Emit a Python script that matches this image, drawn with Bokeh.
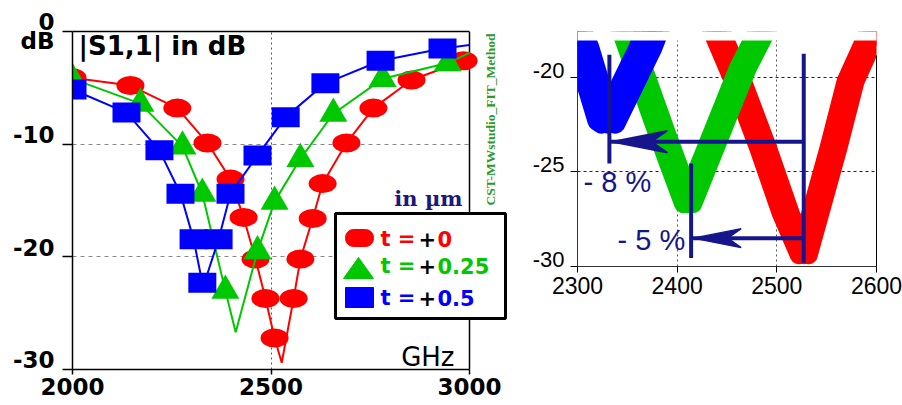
from bokeh.plotting import figure
from bokeh.layouts import row
from bokeh.models import (Range1d, FixedTicker, LinearAxis, Label, BoxAnnotation,
                          PolyAnnotation, ColumnDataSource, Span)
from bokeh.transform import dodge
from bokeh.embed import file_html
from bokeh.resources import INLINE

# ------------------------------------------------------------------ data
# |S1,1| in dB versus frequency (MHz), CST simulation, thickness offset t in um
red_curve_f = [2000, 2146, 2264, 2340, 2398, 2431, 2461, 2486, 2509, 2527, 2557, 2574, 2605, 2630, 2690, 2758, 2854, 2985, 3000]
red_curve_db = [-4.1, -4.8, -6.8, -9.9, -13.1, -16.5, -20.2, -23.7, -27.2, -29.4, -23.7, -20.2, -16.6, -13.5, -9.9, -6.8, -4.3, -2.6, -2.5]
red_mark_f = [2000, 2146, 2264, 2340, 2398, 2431, 2461, 2486, 2509, 2557, 2574, 2605, 2630, 2690, 2758, 2854, 2985]
red_mark_db = [-4.1, -4.8, -6.8, -9.9, -13.1, -16.5, -20.2, -23.7, -27.2, -23.7, -20.2, -16.6, -13.5, -9.9, -6.8, -4.3, -2.6]

green_curve_f = [2000, 2171, 2277, 2327, 2385, 2411, 2466, 2509, 2574, 2657, 2781, 2945, 3000]
green_curve_db = [-4.2, -6.4, -10.2, -14.4, -23.0, -26.7, -19.5, -15.1, -11.3, -7.3, -4.2, -2.8, -1.9]
green_mark_f = [2000, 2171, 2277, 2327, 2385, 2466, 2509, 2574, 2657, 2781, 2945]
green_mark_db = [-4.2, -6.4, -10.2, -14.4, -23.0, -19.5, -15.1, -11.3, -7.3, -4.2, -2.8]

blue_curve_f = [2000, 2136, 2219, 2272, 2305, 2327, 2331, 2368, 2398, 2466, 2537, 2637, 2776, 2932, 3000]
blue_curve_db = [-5.15, -7.2, -10.55, -14.4, -18.45, -22.3, -22.45, -18.45, -14.4, -11.0, -7.6, -4.6, -2.6, -1.5, -1.2]
blue_mark_f = [2000, 2136, 2219, 2272, 2305, 2327, 2368, 2398, 2466, 2537, 2637, 2776, 2932]
blue_mark_db = [-5.15, -7.2, -10.55, -14.4, -18.45, -22.3, -18.45, -14.4, -11.0, -7.6, -4.6, -2.6, -1.5]

legend_values = ["0", "0.25", "0.5"]

left_x_ticks = [2000, 2500, 3000]
left_y_ticks = [-30, -20, -10, 0]
left_y_labels = ["-30", "-20", "-10", "0\ndB"]
right_x_ticks = [2300, 2400, 2500, 2600]
right_y_ticks = [-30, -25, -20]

# resonance markers of the zoom (red, green, blue) and the shift arrows
res_f = [2527, 2414, 2332]
res_top = [-18.75, -24.55, -18.8]
res_bot = [-29.8, -29.55, -24.55]
arrow_from_f = [2527, 2527]
arrow_to_f = [2332, 2414]
arrow_db = [-23.4, -28.5]
shift_labels = ["- 8 %", "- 5 %"]

RED, GREEN, BLUE, NAVY = "#ff0000", "#00c800", "#0000ff", "#16168c"
LEG_COLORS = [RED, GREEN, BLUE]
PAGE_H = 405

# ------------------------------------------------------------------ left plot
L_LEFT, L_TOP = 72, 31
L_FW, L_FH = 443, 338          # frame reaches past 3000 MHz to hold legend / side text
L_PX_MHZ = 397 / 1000.0
L_X1 = 2000 + L_FW / L_PX_MHZ
def lx(px):  # page pixel -> frequency (left plot)
    return 2000 + (px - L_LEFT) / L_PX_MHZ
def ly(py):  # page pixel -> dB (left plot)
    return -(py - L_TOP) * 30.0 / L_FH

p1 = figure(frame_width=L_FW, frame_height=L_FH, min_border_left=L_LEFT, min_border_right=0,
            min_border_top=L_TOP, min_border_bottom=PAGE_H - L_TOP - L_FH,
            x_range=Range1d(2000, L_X1), y_range=Range1d(-30, 0),
            output_backend="svg", toolbar_location=None, title=None)
p1.outline_line_color = None
p1.background_fill_color = "white"
p1.border_fill_color = "white"

xa = p1.xaxis[0]
xa.ticker = FixedTicker(ticks=left_x_ticks)
xa.bounds = (2000, 3000)
xa.major_tick_out = 5
xa.major_tick_in = 0
xa.minor_tick_line_color = None
xa.major_label_standoff = 3
xa.axis_line_width = 1.5
xa.major_tick_line_width = 1.5
xa.major_label_text_font = "DejaVu Sans"
xa.major_label_text_font_style = "bold"
xa.major_label_text_font_size = "23px"
xa.major_label_text_color = "black"

ya = p1.yaxis[0]
ya.ticker = FixedTicker(ticks=left_y_ticks)
ya.major_tick_out = 10
ya.major_tick_in = 0
ya.minor_tick_line_color = None
ya.major_label_standoff = 8
ya.axis_line_width = 1.5
ya.major_tick_line_width = 1.5
ya.major_label_text_font = "DejaVu Sans"
ya.major_label_text_font_style = "bold"
ya.major_label_text_font_size = "23px"
ya.major_label_text_color = "black"
# trailing line lifts each label a little above its tick, as in the original
ya.major_label_overrides = {t: (lab if "\n" in lab else lab + "\n")
                            for t, lab in zip(left_y_ticks, left_y_labels)}
ya.major_label_text_line_height = 0.7

top_axis = LinearAxis(ticker=FixedTicker(ticks=[]), bounds=(2000, 3000), axis_line_width=1.5,
                      axis_line_color="black", major_tick_out=0, major_tick_in=0,
                      minor_tick_out=0, minor_tick_in=0)
p1.add_layout(top_axis, "above")

p1.xgrid.grid_line_color = "#555555"
p1.xgrid.grid_line_dash = "2 3"
p1.ygrid.ticker = FixedTicker(ticks=[-20, -10])
p1.ygrid.grid_line_color = "#888888"
p1.ygrid.grid_line_dash = "4 4"

# blank the area right of 3000 MHz, then draw the right border of the plot box
p1.add_layout(BoxAnnotation(left=3000, fill_color="white", fill_alpha=1, line_color=None,
                            level="underlay"))
p1.add_layout(Span(location=3000, dimension="height", line_color="black", line_width=1.5,
                   level="underlay"))

p1.line(red_curve_f, red_curve_db, line_color=RED, line_width=2)
p1.ellipse(x=red_mark_f, y=red_mark_db, width=28, height=19, width_units="screen",
           height_units="screen", fill_color=RED, line_color=None)
p1.line(green_curve_f, green_curve_db, line_color=GREEN, line_width=2)
p1.scatter(green_mark_f, green_mark_db, marker="triangle", size=28, fill_color=GREEN, line_color=None)
p1.line(blue_curve_f, blue_curve_db, line_color=BLUE, line_width=2)
p1.rect(x=blue_mark_f, y=blue_mark_db, width=28, height=20, width_units="screen",
        height_units="screen", fill_color=BLUE, line_color=None)

p1.add_layout(Label(x=lx(78), y=ly(45), text="|S1,1| in dB", text_font="DejaVu Sans",
                    text_font_style="bold", text_font_size="26px", text_color="black",
                    text_baseline="middle", text_align="left"))
p1.add_layout(Label(x=lx(454), y=ly(356), text="GHz", text_font="DejaVu Sans",
                    text_font_size="26px", text_color="black",
                    text_baseline="middle", text_align="right"))
p1.add_layout(Label(x=lx(462), y=ly(197.5), text="in \u00b5m", text_font="DejaVu Serif",
                    text_font_style="bold", text_font_size="21px", text_color="#1a1a7a",
                    text_baseline="middle", text_align="right"))
p1.add_layout(Label(x=lx(490), y=ly(205), text="CST-MWstudio_FIT_Method", angle=1.5708,
                    text_font="Liberation Serif", text_font_style="bold", text_font_size="13.5px",
                    text_color="#2a9a2a", text_baseline="middle", text_align="left"))

# legend (hand made: three coloured parts per entry)
p1.add_layout(BoxAnnotation(left=lx(335), right=lx(505), top=ly(213), bottom=ly(318),
                            fill_color="white", fill_alpha=1, line_color="black",
                            line_alpha=1, line_width=3))
p1.add_layout(BoxAnnotation(left=lx(345), right=lx(373), top=ly(229), bottom=ly(246),
                            fill_color=RED, fill_alpha=1, line_color=RED, line_alpha=1,
                            line_width=1, border_radius=8))
p1.add_layout(PolyAnnotation(xs=[lx(343), lx(358), lx(373)], ys=[ly(278), ly(257), ly(278)],
                             fill_color=GREEN, fill_alpha=1, line_color=GREEN, line_alpha=1))
p1.add_layout(BoxAnnotation(left=lx(345), right=lx(373), top=ly(287), bottom=ly(307),
                            fill_color=BLUE, fill_alpha=1, line_color=BLUE, line_alpha=1,
                            line_width=1))
for val, col, mid in zip(legend_values, LEG_COLORS, [238, 265.5, 297.5]):
    common = dict(y=ly(mid), text_font="DejaVu Sans", text_font_style="bold",
                  text_font_size="21px", text_baseline="middle", text_align="left")
    p1.add_layout(Label(x=lx(380), text="t =", text_color=col, **common))
    p1.add_layout(Label(x=lx(418), text="+", text_color="black", **common))
    p1.add_layout(Label(x=lx(437), text=val, text_color=col, **common))

# ------------------------------------------------------------------ right plot (zoom)
# Bokeh aligns the frame tops of a row, so this frame also starts at y = 31 and its
# top 9 px are blanked so that the zoomed curves stop at y = 40 as in the original.
R_LEFT_BORDER = 62               # p2 starts at page x = 72 + 443 = 515, frame at 577
R_FW, R_FH = 299, 235
R_PX_MHZ = R_FW / 300.0
R_PX_DB = 226 / 11.95
def rx(px):
    return 2300 + (px - 577) / R_PX_MHZ
def ry(py):
    return -30 + (266 - py) / R_PX_DB
R_TOP = ry(31)
R_CUT = ry(40)

p2 = figure(frame_width=R_FW, frame_height=R_FH, min_border_left=R_LEFT_BORDER,
            min_border_right=902 - 515 - R_LEFT_BORDER - R_FW, min_border_top=31,
            min_border_bottom=PAGE_H - 31 - R_FH, x_range=Range1d(2300, 2600),
            y_range=Range1d(-30, R_TOP), output_backend="svg", toolbar_location=None, title=None)
p2.outline_line_color = None
p2.background_fill_color = "white"
p2.border_fill_color = "white"

xb = p2.xaxis[0]
xb.ticker = FixedTicker(ticks=right_x_ticks)
xb.major_tick_out = 6
xb.major_tick_in = 0
xb.minor_tick_line_color = None
xb.major_label_standoff = 4
xb.axis_line_color = "#333333"
xb.major_label_text_font = "Liberation Sans"
xb.major_label_text_font_size = "23px"
xb.major_label_text_color = "black"

yb = p2.yaxis[0]
yb.ticker = FixedTicker(ticks=right_y_ticks)
yb.bounds = (-30, R_CUT)
yb.major_tick_out = 7
yb.major_tick_in = 0
yb.minor_tick_line_color = None
yb.major_label_standoff = 6
yb.axis_line_color = "#333333"
yb.major_label_text_font = "Liberation Sans"
yb.major_label_text_font_size = "22px"
yb.major_label_text_color = "black"
yb.major_label_overrides = {t: "%d\n" % t for t in right_y_ticks}
yb.major_label_text_line_height = 0.57

p2.add_layout(LinearAxis(ticker=FixedTicker(ticks=[]), major_tick_out=0, major_tick_in=0,
                         minor_tick_out=0, minor_tick_in=0, axis_line_color="black",
                         bounds=(-30, ry(55))), "right")

p2.xgrid.grid_line_color = "#555555"
p2.xgrid.grid_line_dash = "2 3"
p2.ygrid.grid_line_color = "#222222"
p2.ygrid.grid_line_dash = "3 3"

for cf, cdb, col, lw, sp in [(red_curve_f, red_curve_db, RED, 18, 5),
                             (green_curve_f, green_curve_db, GREEN, 18, 5),
                             (blue_curve_f, blue_curve_db, BLUE, 20, 7)]:
    src = ColumnDataSource(dict(f=cf, db=cdb))
    for off in (-sp, 0, sp):
        p2.line(x=dodge("f", off), y="db", source=src, line_color=col, line_width=lw,
                line_join="round", line_cap="round")

# resonance markers and shift arrows
p2.segment(x0=res_f, y0=res_top, x1=res_f, y1=res_bot, line_color=NAVY, line_width=4)
p2.segment(x0=arrow_from_f, y0=arrow_db, x1=arrow_to_f, y1=arrow_db, line_color=NAVY, line_width=4)
head_len_px = [56, 48]
head_half_px = [11, 9.5]
hx, hy = [], []
for f_to, yv, hl, hh in zip(arrow_to_f, arrow_db, head_len_px, head_half_px):
    tip = f_to + 2 / R_PX_MHZ
    L = hl / R_PX_MHZ
    H = hh / R_PX_DB
    hx.append([tip, tip + L, tip + 0.72 * L, tip + L])
    hy.append([yv, yv + H, yv, yv - H])
p2.patches(hx, hy, fill_color=NAVY, line_color=NAVY, line_width=1.5)

for txt, px, py in zip(shift_labels, [583, 617], [181.5, 239.5]):
    p2.add_layout(Label(x=rx(px), y=ry(py), text=txt, text_font="Liberation Sans",
                        text_font_size="29px", text_color=NAVY, text_baseline="middle",
                        text_align="left"))

# blank strip at the top of the zoom frame (extends past the frame edges)
p2.add_layout(BoxAnnotation(bottom=R_CUT, top=R_TOP + 2, left=2290, right=2610,
                            fill_color="white", fill_alpha=1, line_color=None))

layout = row(p1, p2)
open("out.html", "w").write(file_html(layout, INLINE))
